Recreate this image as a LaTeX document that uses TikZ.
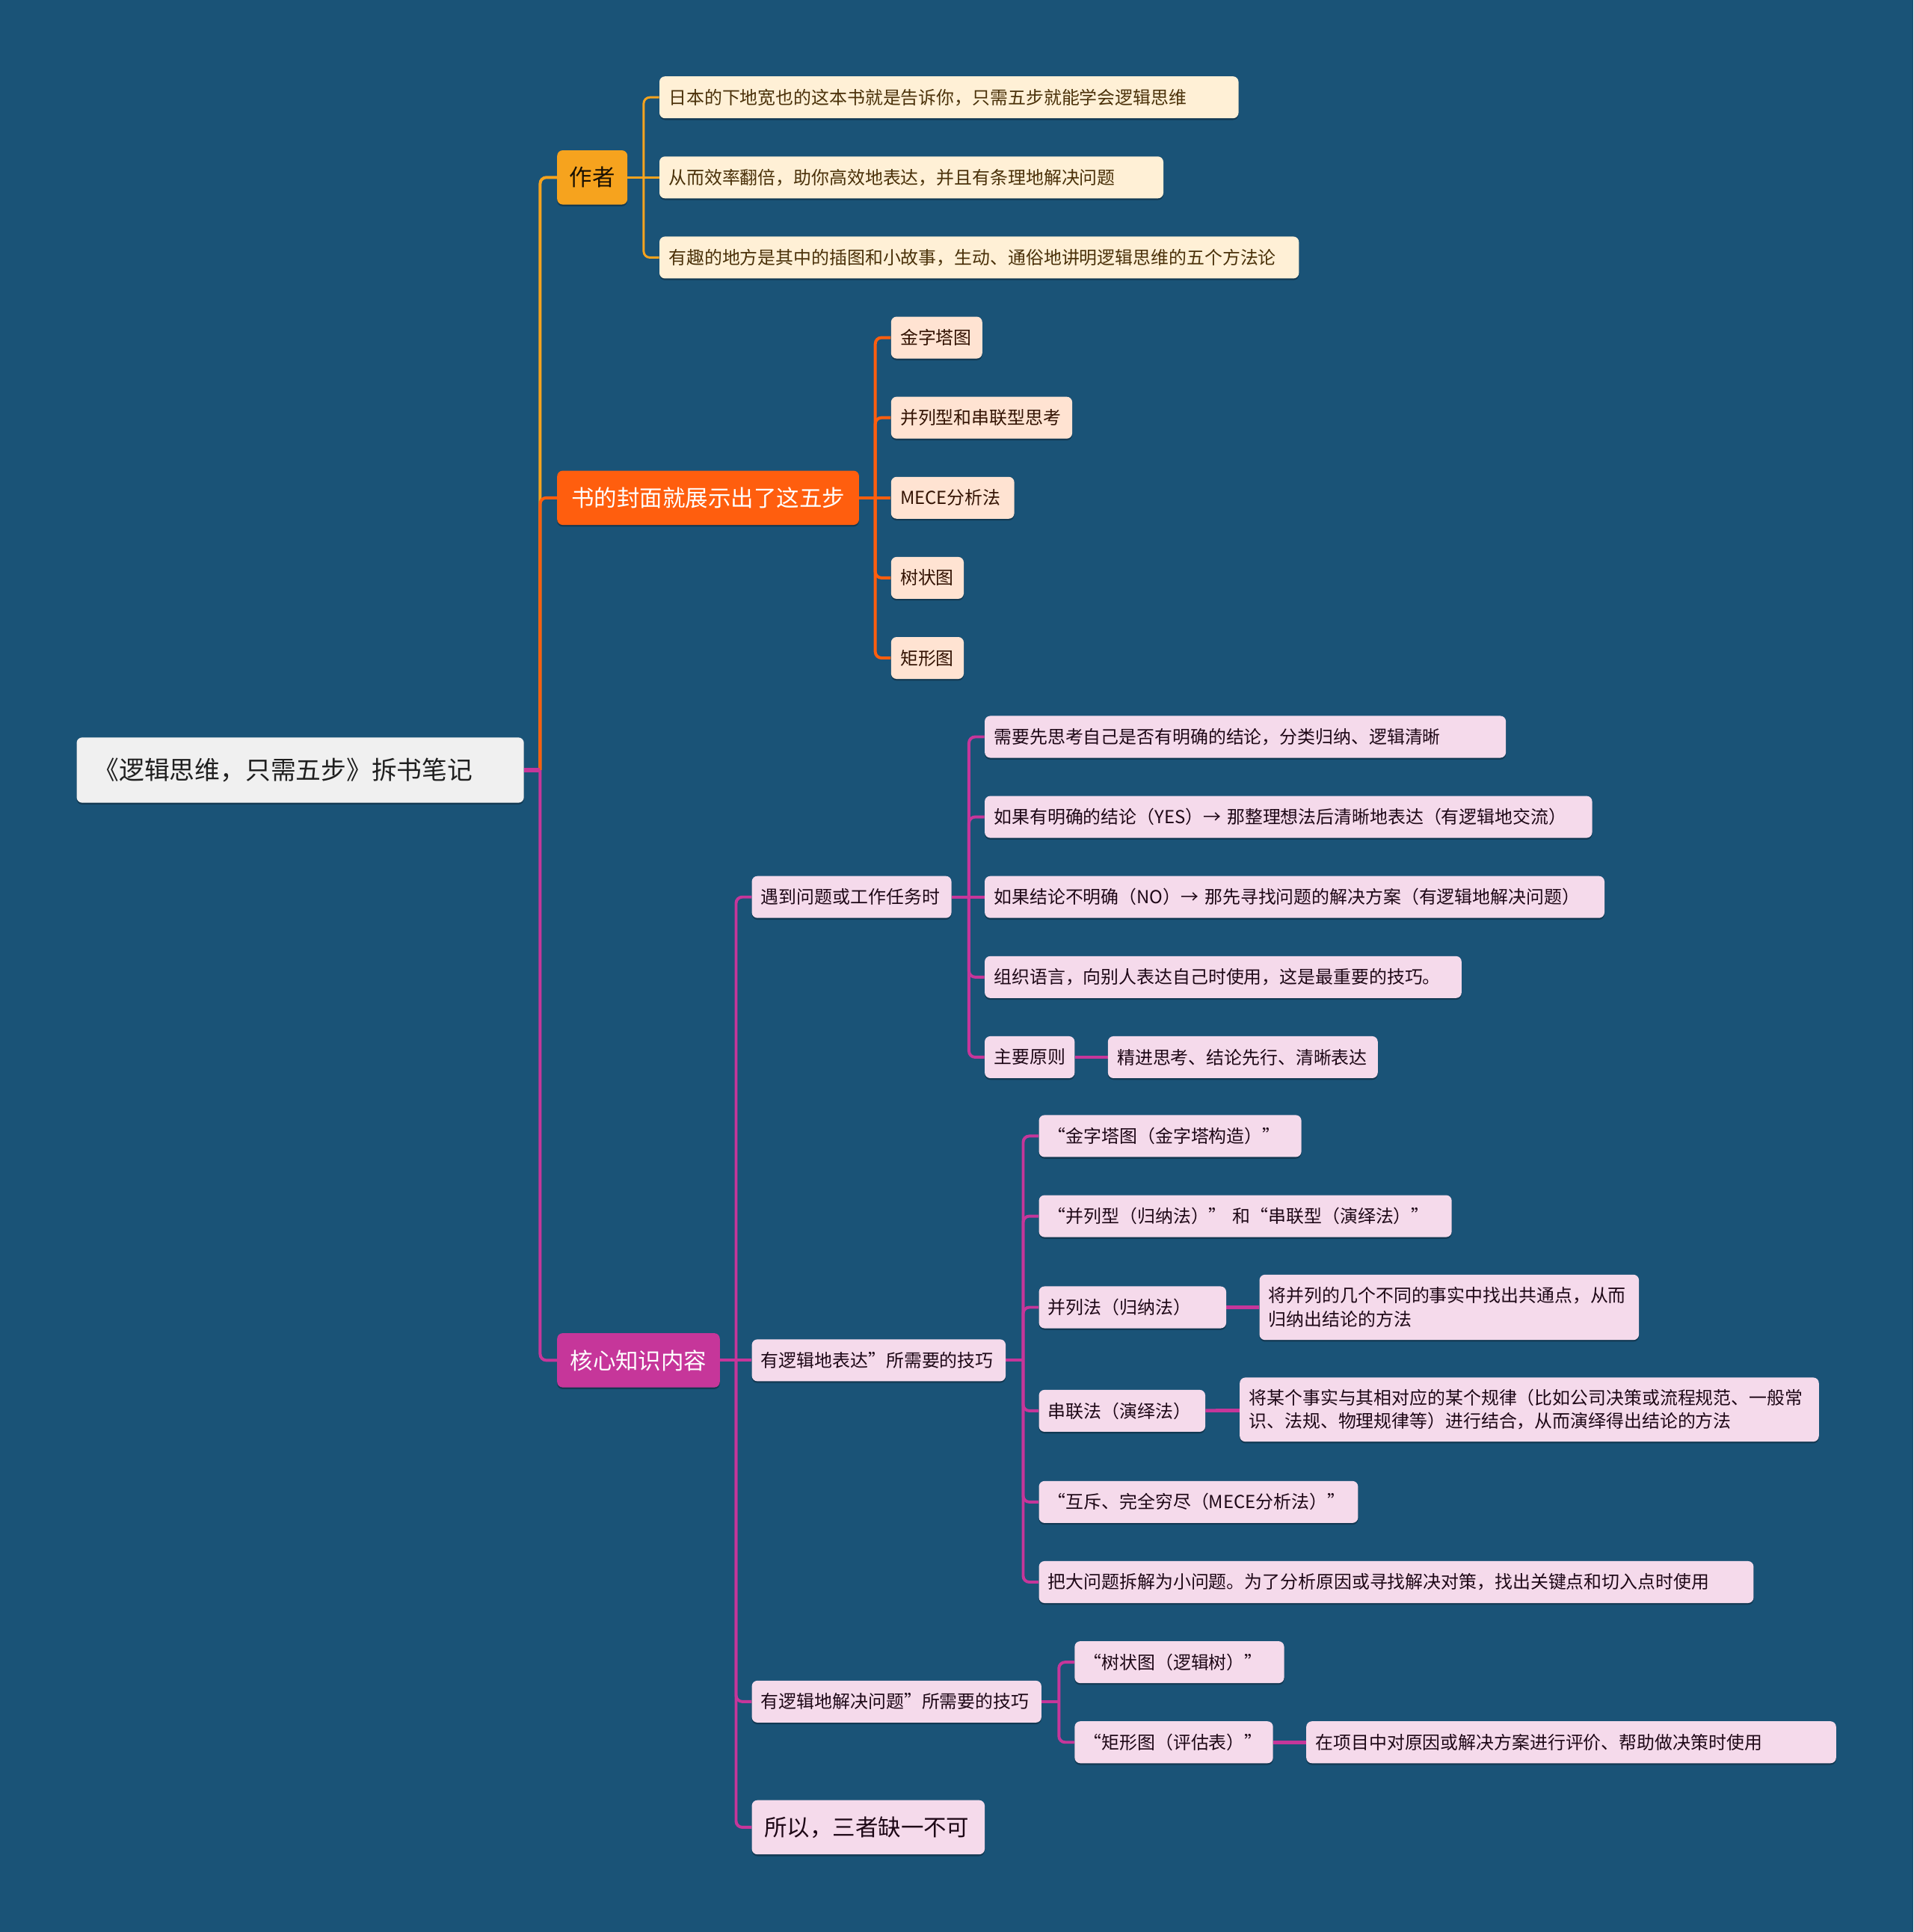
\documentclass[tikz,border=0pt]{standalone}
\usepackage{fontspec}
\setmainfont{Noto Sans CJK SC}
\usepackage{tikz}
\usetikzlibrary{positioning,backgrounds,shadows}
\definecolor{MapBg}{HTML}{1A5377}
\definecolor{MapYellow}{HTML}{F6A31E}
\definecolor{MapOrange}{HTML}{FF5E0E}
\definecolor{MapMagenta}{HTML}{C6369A}
\definecolor{MapCream}{HTML}{FFF0D6}
\definecolor{MapPeach}{HTML}{FFE3D2}
\definecolor{MapPink}{HTML}{F5DAEB}
\definecolor{MapRoot}{HTML}{F0F0F0}
\tikzset{
  topic/.style={rounded corners=4.5pt, anchor=west, inner ysep=0pt,
    drop shadow={shadow xshift=0pt, shadow yshift=-1.4pt, opacity=0.3, fill=black}},
  roottopic/.style={topic, fill=MapRoot, text=black!88, align=left, inner xsep=14pt,
    text width=335pt, minimum height=53pt, font=\fontsize{20.5}{25}\selectfont},
  headtopic/.style={topic, align=center, inner xsep=8pt, minimum height=44pt,
    font=\fontsize{18.5}{22}\selectfont},
  authortopic/.style={headtopic, fill=MapYellow, text=black!75!MapYellow!40!black},
  covertopic/.style={headtopic, fill=MapOrange, text=white},
  coretopic/.style={headtopic, fill=MapMagenta, text=white},
  leaf/.style={topic, align=left, inner xsep=7.5pt, minimum height=34pt,
    font=\fontsize{14.5}{19}\selectfont},
  authorleaf/.style={leaf, fill=MapCream, text=MapYellow!30!black},
  coverleaf/.style={leaf, fill=MapPeach, text=MapOrange!20!black},
  coreleaf/.style={leaf, fill=MapPink, text=MapMagenta!15!black},
  wire/.style={line width=2.4pt, rounded corners=5pt},
  yellowwire/.style={wire, draw=MapYellow},
  orangewire/.style={wire, draw=MapOrange},
  magentawire/.style={wire, draw=MapMagenta}
}

\begin{document}
\begin{tikzpicture}[x=1pt, y=-1pt]
  \useasboundingbox (0,0) rectangle (1553,1568);
  % main topics
  \node[roottopic] (root) at (62,625) {《逻辑思维，只需五步》拆书笔记};
  \node[authortopic, minimum width=57pt] (author) at (452,144) {作者};
  \node[covertopic, minimum width=245pt] (cover) at (452,404) {书的封面就展示出了这五步};
  \node[coretopic, minimum width=132pt] (core) at (452,1104) {核心知识内容};
  % author
  \node[authorleaf, text width=455pt] (author1) at (535,79) {日本的下地宽也的这本书就是告诉你，只需五步就能学会逻辑思维};
  \node[authorleaf, text width=394pt] (author2) at (535,144) {从而效率翻倍，助你高效地表达，并且有条理地解决问题};
  \node[authorleaf, text width=504pt] (author3) at (535,209) {有趣的地方是其中的插图和小故事，生动、通俗地讲明逻辑思维的五个方法论};
  % cover
  \node[coverleaf, text width=59pt] (cover1) at (723,274) {金字塔图};
  \node[coverleaf, text width=132pt] (cover2) at (723,339) {并列型和串联型思考};
  \node[coverleaf, text width=85pt] (cover3) at (723,404) {MECE分析法};
  \node[coverleaf, text width=44pt] (cover4) at (723,469) {树状图};
  \node[coverleaf, text width=44pt] (cover5) at (723,534) {矩形图};
  % core
  \node[coreleaf, text width=147pt] (core1) at (610,728) {遇到问题或工作任务时};
  \node[coreleaf, text width=191pt] (core2) at (610,1104) {有逻辑地表达”所需要的技巧};
  \node[coreleaf, text width=220pt] (core3) at (610,1381) {有逻辑地解决问题”所需要的技巧};
  \node[coreleaf, text width=169pt, inner xsep=10pt, minimum height=44pt,
    font=\fontsize{18.5}{22}\selectfont] (core4) at (610,1483) {所以，三者缺一不可};
  \node[coreleaf, text width=408pt] (meet1) at (799,598) {需要先思考自己是否有明确的结论，分类归纳、逻辑清晰};
  \node[coreleaf, text width=478pt] (meet2) at (799,663) {如果有明确的结论（YES）→ 那整理想法后清晰地表达（有逻辑地交流）};
  \node[coreleaf, text width=488pt] (meet3) at (799,728) {如果结论不明确（NO）→ 那先寻找问题的解决方案（有逻辑地解决问题）};
  \node[coreleaf, text width=372pt] (meet4) at (799,793) {组织语言，向别人表达自己时使用，这是最重要的技巧。};
  \node[coreleaf, text width=58pt] (meet5) at (799,858) {主要原则};
  \node[coreleaf, text width=204pt] (rule) at (899,858) {精进思考、结论先行、清晰表达};
  \node[coreleaf, text width=198pt] (say1) at (843,922) {“金字塔图（金字塔构造）”};
  \node[coreleaf, text width=320pt] (say2) at (843,987) {“并列型（归纳法）” 和“串联型（演绎法）”};
  \node[coreleaf, text width=137pt] (say3) at (843,1061) {并列法（归纳法）};
  \node[coreleaf, text width=293pt, minimum height=53pt] (induct) at (1022,1061) {将并列的几个不同的事实中找出共通点，从而\\归纳出结论的方法};
  \node[coreleaf, text width=120pt] (say4) at (843,1145) {串联法（演绎法）};
  \node[coreleaf, text width=455pt, minimum height=52pt] (deduct) at (1006,1144) {将某个事实与其相对应的某个规律（比如公司决策或流程规范、一般常\\识、法规、物理规律等）进行结合，从而演绎得出结论的方法};
  \node[coreleaf, text width=244pt] (say5) at (843,1219) {“互斥、完全穷尽（MECE分析法）”};
  \node[coreleaf, text width=565pt] (say6) at (843,1284) {把大问题拆解为小问题。为了分析原因或寻找解决对策，找出关键点和切入点时使用};
  \node[coreleaf, text width=155pt] (solve1) at (872,1349) {“树状图（逻辑树）”};
  \node[coreleaf, text width=146pt] (solve2) at (872,1414) {“矩形图（评估表）”};
  \node[coreleaf, text width=415pt] (matrix) at (1060,1414) {在项目中对原因或解决方案进行评价、帮助做决策时使用};
  % junctions
  \coordinate (jroot) at ([xshift=13pt]root.east);
  \coordinate (jauthor) at ([xshift=13pt]author.east);
  \coordinate (jcover) at ([xshift=13pt]cover.east);
  \coordinate (jcore) at ([xshift=13pt]core.east);
  \coordinate (jcore2) at ([xshift=14pt]core2.east);
  \coordinate (jcore3) at ([xshift=14pt]core3.east);
  \coordinate (jcore1) at ([xshift=14pt]core1.east);
  \begin{scope}[on background layer]
    \fill[MapBg] (0,0) rectangle (1553,1568);
    \draw[yellowwire] (jroot) |- (author.west);
    \draw[orangewire] (jroot) |- (cover.west);
    \draw[magentawire] (jroot) |- (core.west);
    \draw[magentawire, line width=3.5pt] (root.east) -- (jroot);
    % author
    \draw[yellowwire, line width=1.8pt] (author.east) -- (author2.west);
    \foreach \n in {author1,author3}
      \draw[yellowwire, line width=1.8pt] (jauthor) |- (\n.west);
    % cover
    \draw[orangewire] (cover.east) -- (cover3.west);
    \foreach \n in {cover1,cover2,cover4,cover5}
      \draw[orangewire] (jcover) |- (\n.west);
    % core
    \draw[magentawire] (core.east) -- (core2.west);
    \foreach \n in {core1,core3,core4}
      \draw[magentawire] (jcore) |- (\n.west);
    \draw[magentawire] (core1.east) -- (meet3.west);
    \foreach \n in {meet1,meet2,meet4,meet5}
      \draw[magentawire] (jcore1) |- (\n.west);
    \draw[magentawire, line width=2.8pt] (meet5) -- (rule);
    \draw[magentawire] (core2.east) -- (jcore2);
    \foreach \n in {say1,say2,say3,say4,say5,say6}
      \draw[magentawire] (jcore2) |- (\n.west);
    \draw[magentawire, line width=2.8pt] (say3) -- (induct);
    \draw[magentawire, line width=2.8pt] (say4) -- (deduct);
    \draw[magentawire] (core3.east) -- (jcore3);
    \foreach \n in {solve1,solve2}
      \draw[magentawire] (jcore3) |- (\n.west);
    \draw[magentawire, line width=2.8pt] (solve2) -- (matrix);
  \end{scope}
\end{tikzpicture}
\end{document}
